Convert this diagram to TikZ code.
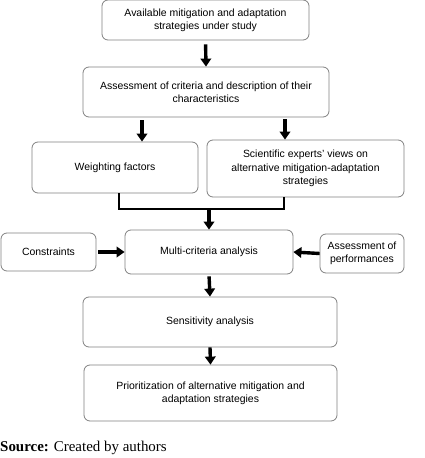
\documentclass[tikz,border=0pt]{standalone}
\usepackage{fontspec}
\setmainfont{Liberation Serif}
\setsansfont{Liberation Sans}
\usetikzlibrary{arrows.meta}

\begin{document}
\begin{tikzpicture}[x=1bp,y=-1bp,
		box/.style={draw=black!50,line width=0.8bp,rounded corners=6bp,align=center,inner sep=0pt,
			font=\sffamily\fontsize{10.5}{13.3}\selectfont},
		arr/.style={line width=3.4bp,-{Triangle[length=8bp,width=10.5bp]}},
		bracket/.style={line width=2bp}]
				\useasboundingbox (0,0) rectangle (424,458);
				% main column
				\node[box,minimum width=207bp,minimum height=40bp] (avail) at (205.5,20) {Available mitigation and adaptation\\strategies under study};
				\node[box,minimum width=246bp,minimum height=50bp] (assess) at (206,92) {Assessment of criteria and description of their\\characteristics};
				\node[box,minimum width=166bp,minimum height=51bp] (weight) at (115,167.5) {Weighting factors};
				\node[box,minimum width=197bp,minimum height=57bp] (experts) at (305.5,168.5) {Scientific experts' views on\\alternative mitigation-adaptation\\strategies};
				\node[box,minimum width=168bp,minimum height=44bp] (mca) at (209,252) {Multi-criteria analysis};
				\node[box,minimum width=95bp,minimum height=38bp] (constr) at (48.5,252) {Constraints};
				\node[box,minimum width=84bp,minimum height=39bp] (perf) at (362,253.5) {Assessment of\\performances};
				\node[box,minimum width=254bp,minimum height=50bp] (sens) at (210,322) {Sensitivity analysis};
				\node[box,minimum width=253bp,minimum height=56bp] (prior) at (210.5,393) {Prioritization of alternative mitigation and\\adaptation strategies};
				\node[anchor=west,inner sep=0pt,font=\fontsize{15}{16}\selectfont] (source) at (0,448) {\textbf{Source:} Created by authors};
				% arrows
				\draw[arr,shorten <=4bp] (avail.south) -- (assess.north);
				\draw[arr,shorten <=3bp] ([xshift=27bp]weight.north |- assess.south) -- ([xshift=27bp]weight.north);
				\draw[arr,shorten <=2bp] ([xshift=-20.5bp]experts.north |- assess.south) -- ([xshift=-20.5bp]experts.north);
				\coordinate (mid) at (mca.north |- 0,209);
				\draw[bracket] ([xshift=4bp]weight.south) |- (mid) -| ([xshift=-21.5bp]experts.south);
				\draw[arr] (mid) -- (mca.north);
				\draw[arr,shorten <=2bp] (constr.east) -- (mca.west);
				\draw[arr] (perf.west) -- (mca.east);
				\draw[arr,shorten <=2bp] (mca.south) -- (sens.north);
				\draw[arr] (sens.south) -- (prior.north);
\end{tikzpicture}
\end{document}
